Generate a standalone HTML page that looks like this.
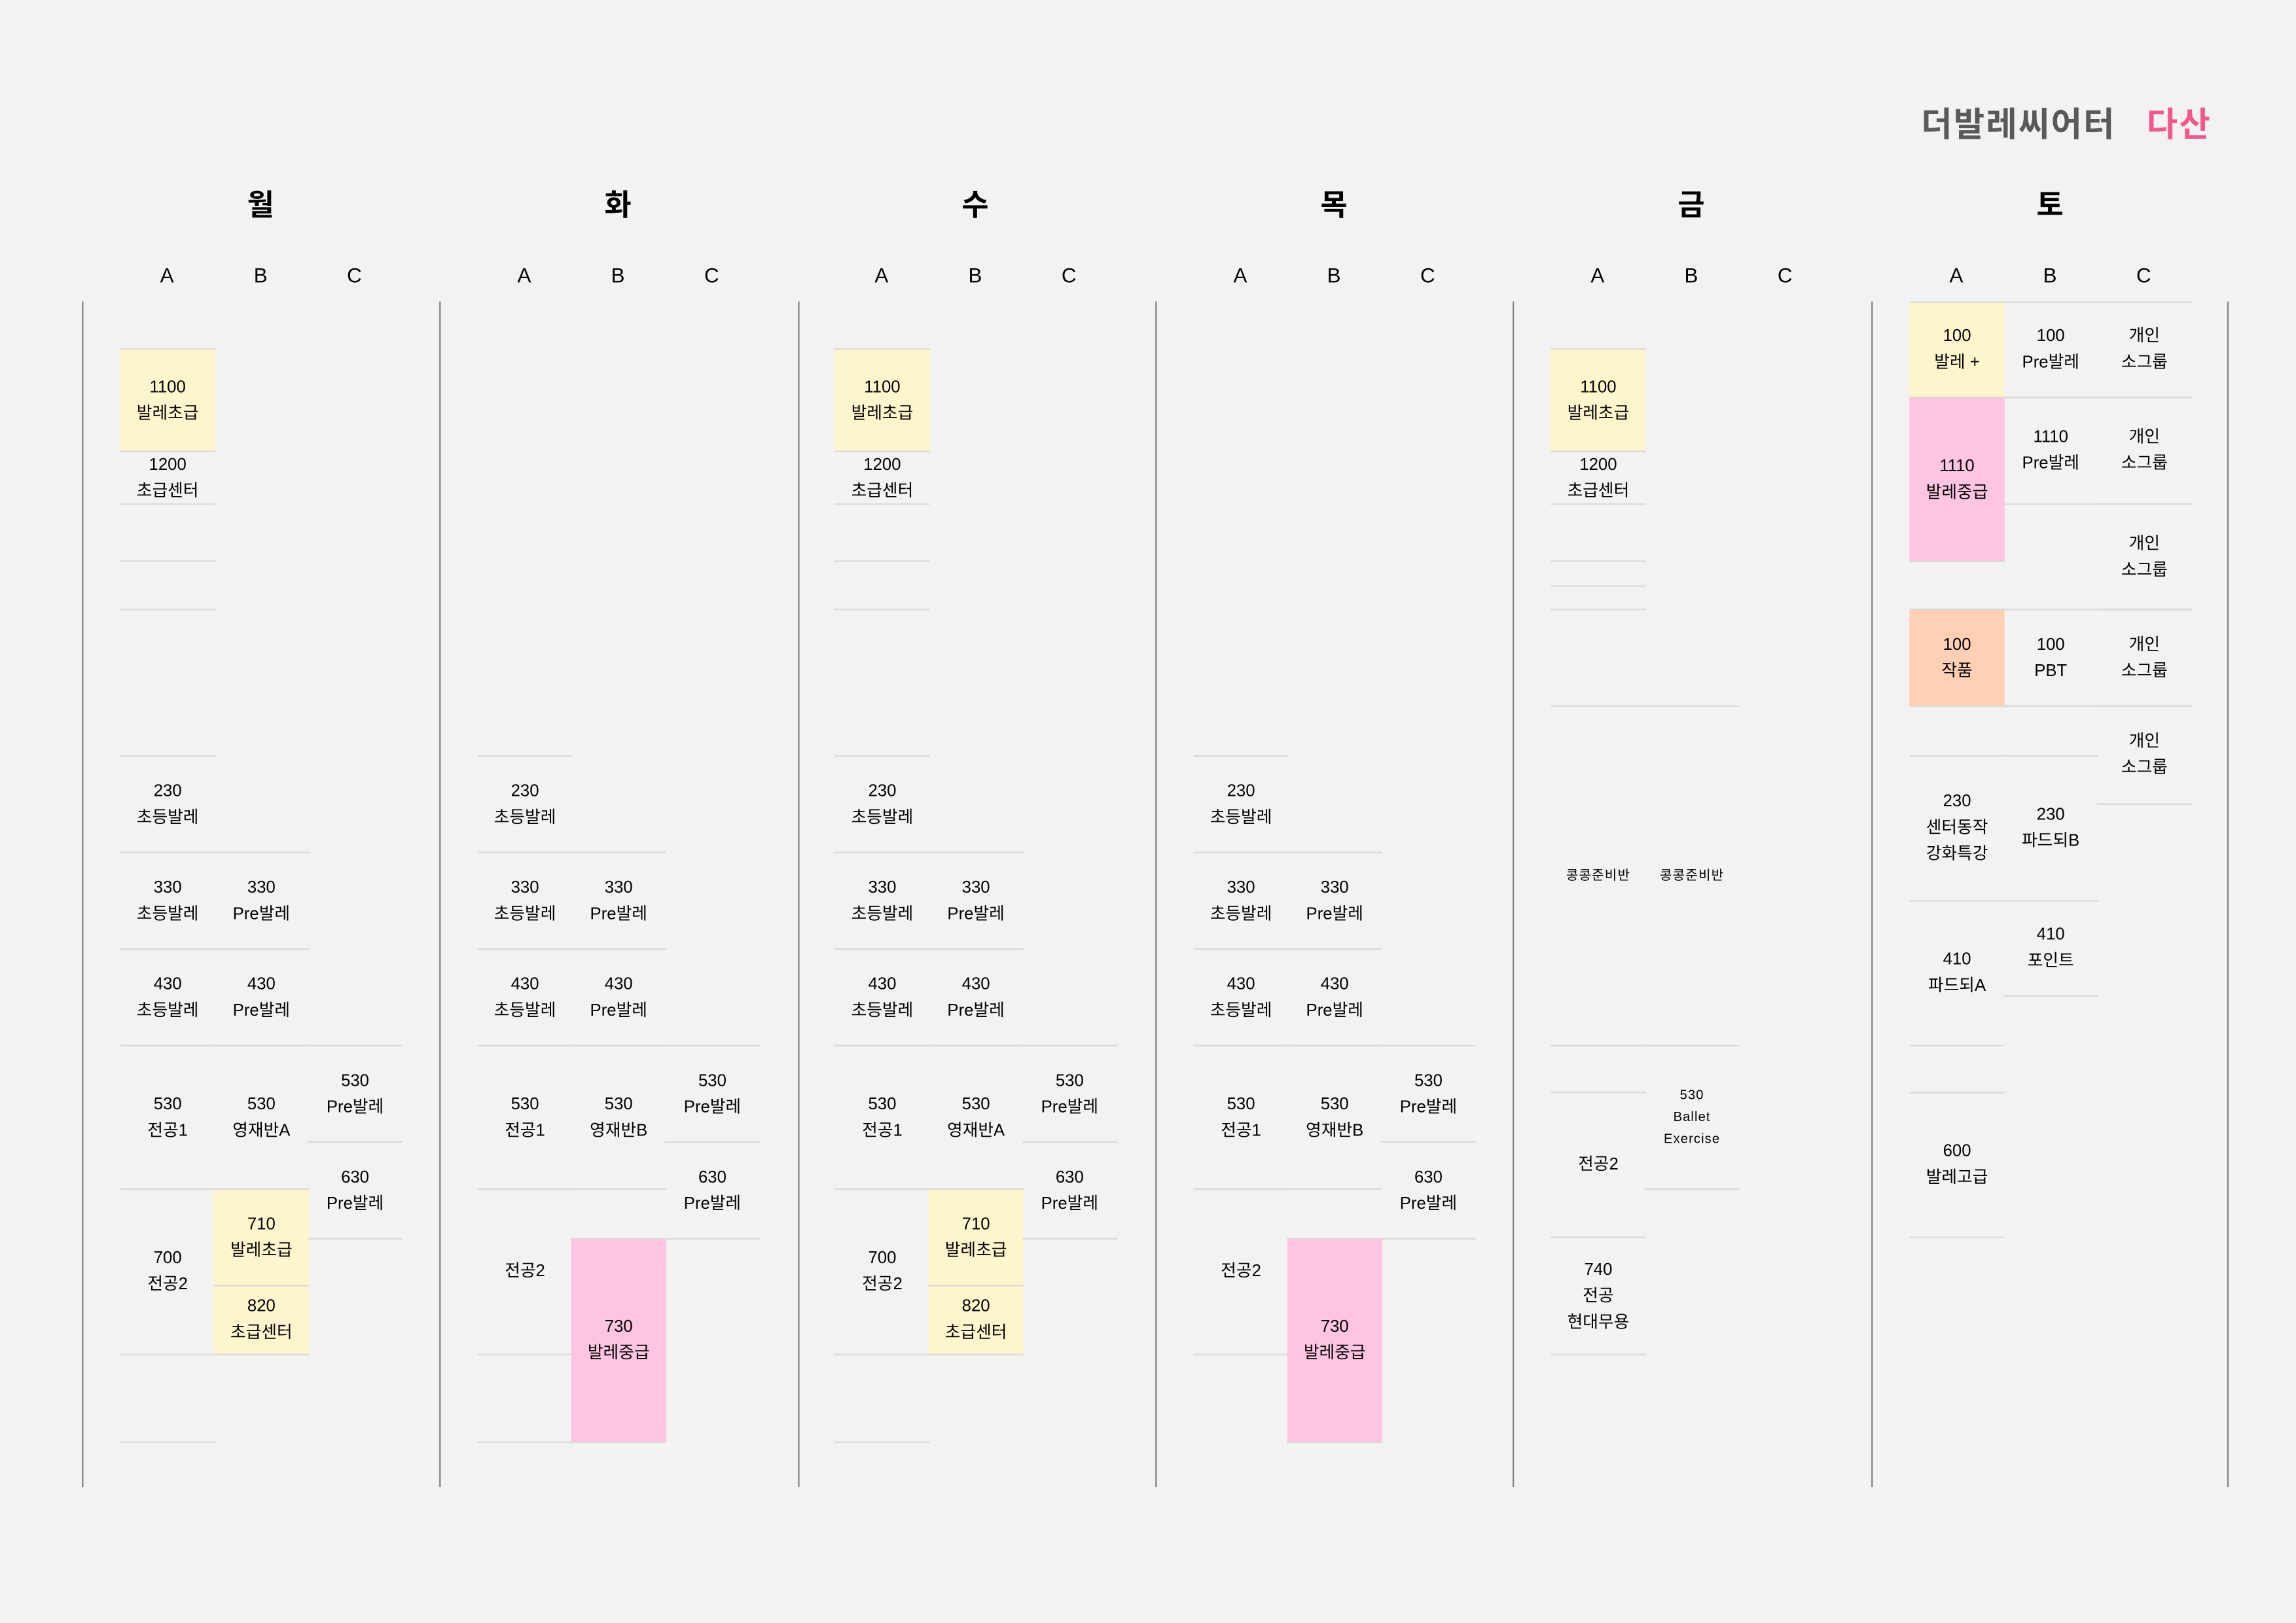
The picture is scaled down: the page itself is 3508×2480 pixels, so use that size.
<!DOCTYPE html>
<html><head><meta charset="utf-8">
<style>
html,body{margin:0;padding:0;background:#f2f2f2;}
body{width:3508px;height:2480px;overflow:hidden;}
#stage{position:absolute;left:0;top:0;width:1568px;height:1109px;transform-origin:0 0;transform:scale(2.23724,2.23625);font-family:"Liberation Sans","Noto Sans CJK KR",sans-serif;color:#000;}
.abs{position:absolute;}
.title{top:66px;font-size:23px;font-weight:bold;letter-spacing:1px;}
.day{top:124px;width:60px;text-align:center;font-size:20px;font-weight:bold;}
.col{top:180px;width:40px;text-align:center;font-size:14px;}
.vline{top:206px;height:810px;width:1px;background:#808080;}
.cell{box-sizing:border-box;border-top:1px solid #d9d9d9;border-bottom:1px solid #d9d9d9;display:flex;flex-direction:column;justify-content:center;align-items:center;font-size:11.5px;line-height:18px;text-align:center;}
.cell.small{font-size:9px;line-height:15px;letter-spacing:0.5px;}
.hl{height:1px;background:#d9d9d9;}
</style></head>
<body>
<div id="stage">
  <div class="abs title" style="left:1312px;color:#595959;">더발레씨어터</div>
  <div class="abs title" style="left:1466px;color:#f4578a;">다산</div>
</div>
<script>
const days = ["월","화","수","목","금","토"];
const dayCenters = [178,422,666,911,1155,1400];
const colLetters = ["A","B","C"];
const sepX = [56,300,545,789,1033,1278,1521];
const Y = "#fff5cc", P = "#fdc5e1", O = "#ffd0b4";
// cells: [dayIndex, colIndex, yTop, yBottom, lines, bg, small]
const monCells = [
 [0,0,238,308,["1100","발레초급"],Y],[0,0,308,344,["1200","초급센터"]],
 [0,0,516,582,["230","초등발레"]],[0,0,582,648,["330","초등발레"]],[0,0,648,714,["430","초등발레"]],
 [0,0,714,812,["530","전공1"]],[0,0,812,925,["700","전공2"]],
 [0,1,582,648,["330","Pre발레"]],[0,1,648,714,["430","Pre발레"]],[0,1,714,812,["530","영재반A"]],
 [0,1,812,878,["710","발레초급"],Y],[0,1,878,925,["820","초급센터"],Y],
 [0,2,714,780,["530","Pre발레"]],[0,2,780,846,["630","Pre발레"]]
];
const tueCells = [
 [1,0,516,582,["230","초등발레"]],[1,0,582,648,["330","초등발레"]],[1,0,648,714,["430","초등발레"]],
 [1,0,714,812,["530","전공1"]],[1,0,812,925,["전공2"]],
 [1,1,582,648,["330","Pre발레"]],[1,1,648,714,["430","Pre발레"]],[1,1,714,812,["530","영재반B"]],
 [1,1,846,985,["730","발레중급"],P],
 [1,2,714,780,["530","Pre발레"]],[1,2,780,846,["630","Pre발레"]]
];
const wedCells = [
 [2,0,238,308,["1100","발레초급"],Y],[2,0,308,344,["1200","초급센터"]],
 [2,0,516,582,["230","초등발레"]],[2,0,582,648,["330","초등발레"]],[2,0,648,714,["430","초등발레"]],
 [2,0,714,812,["530","전공1"]],[2,0,812,925,["700","전공2"]],
 [2,1,582,648,["330","Pre발레"]],[2,1,648,714,["430","Pre발레"]],[2,1,714,812,["530","영재반A"]],
 [2,1,812,878,["710","발레초급"],Y],[2,1,878,925,["820","초급센터"],Y],
 [2,2,714,780,["530","Pre발레"]],[2,2,780,846,["630","Pre발레"]]
];
const thuCells = [
 [3,0,516,582,["230","초등발레"]],[3,0,582,648,["330","초등발레"]],[3,0,648,714,["430","초등발레"]],
 [3,0,714,812,["530","전공1"]],[3,0,812,925,["전공2"]],
 [3,1,582,648,["330","Pre발레"]],[3,1,648,714,["430","Pre발레"]],[3,1,714,812,["530","영재반B"]],
 [3,1,846,985,["730","발레중급"],P],
 [3,2,714,780,["530","Pre발레"]],[3,2,780,846,["630","Pre발레"]]
];
const friCells = [
 [4,0,238,308,["1100","발레초급"],Y],[4,0,308,344,["1200","초급센터"]],
 [4,0,482,714,["콩콩준비반"],null,1],[4,0,746,845,["전공2"]],[4,0,845,925,["740","전공","현대무용"]],
 [4,1,482,714,["콩콩준비반"],null,1],[4,1,714,812,["530","Ballet","Exercise"],null,1]
];
const satCells = [
 [5,0,206,271,["100","발레 +"],Y],[5,0,271,383,["1110","발레중급"],P],[5,0,416,482,["100","작품"],O],
 [5,0,516,615,["230","센터동작","강화특강"]],[5,0,615,714,["410","파드되A"]],[5,0,746,845,["600","발레고급"]],
 [5,1,206,271,["100","Pre발레"]],[5,1,271,344,["1110","Pre발레"]],[5,1,416,482,["100","PBT"]],
 [5,1,516,615,["230","파드되B"]],[5,1,615,680,["410","포인트"]],
 [5,2,206,271,["개인","소그룹"]],[5,2,271,344,["개인","소그룹"]],[5,2,344,416,["개인","소그룹"]],
 [5,2,416,482,["개인","소그룹"]],[5,2,482,549,["개인","소그룹"]]
];
// extra divider lines: [dayIndex, colIndex, y]
const extraLines = [
 [0,0,383],[0,0,416],[0,0,985],
 [1,0,985],
 [2,0,383],[2,0,416],[2,0,985],
 [4,0,383],[4,0,400],[4,0,416],[4,0,714],[4,1,812],
 [5,0,746]
];
const stage = document.getElementById('stage');
const colX = (d,c) => dayCenters[d] + (c-1)*64;
days.forEach((d,i)=>{
  const el = document.createElement('div');
  el.className='abs day';
  el.style.left=(dayCenters[i]-30)+'px';
  el.textContent=d;
  
  
  stage.appendChild(el);
  colLetters.forEach((L,c)=>{
    const e2=document.createElement('div');
    e2.className='abs col';
    e2.style.left=(colX(i,c)-20)+'px';
    e2.textContent=L;
    
    
    stage.appendChild(e2);
  });
});
sepX.forEach(x=>{
  const v=document.createElement('div');
  v.className='abs vline';
  v.style.left=x+'px';
  
  
  stage.appendChild(v);
});
[monCells,tueCells,wedCells,thuCells,friCells,satCells].forEach(arr=>arr.forEach(c=>{
  const [d,col,y1,y2,lines,bg,small]=c;
  const el=document.createElement('div');
  el.className='abs cell'+(small?' small':'');
  el.style.left=(colX(d,col)-32)+'px';
  el.style.width='65px';
  el.style.top=y1+'px';
  el.style.height=(y2-y1+1)+'px';
  if(bg) el.style.background=bg;
  lines.forEach(t=>{const s=document.createElement('div');s.textContent=t;el.appendChild(s);});
  
  
  stage.appendChild(el);
}));
extraLines.forEach(l=>{
  const [d,col,y]=l;
  const el=document.createElement('div');
  el.className='abs hl';
  el.style.left=(colX(d,col)-32)+'px';
  el.style.width='65px';
  el.style.top=y+'px';
  
  
  stage.appendChild(el);
});
</script>
</body></html>
